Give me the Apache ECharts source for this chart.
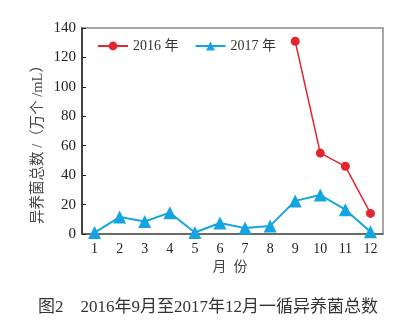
<!DOCTYPE html>
<html>
<head>
<meta charset="utf-8">
<script src="https://cdn.jsdelivr.net/npm/echarts@6/dist/echarts.min.js"></script>
<style>
  html, body { margin: 0; padding: 0; background: #fff; }
  #chart { width: 420px; height: 328px; }
</style>
</head>
<body>
<div id="chart"></div>
<script>
// Months on the x axis
const months = ['1', '2', '3', '4', '5', '6', '7', '8', '9', '10', '11', '12'];
// Total heterotrophic bacteria (10^4 cells/mL)
const values2016 = [null, null, null, null, null, null, null, null, 131, 55, 46, 14];
const values2017 = [1, 11.5, 8.5, 14.5, 1, 7.5, 4, 5.5, 22.5, 26.5, 16.5, 1.5];
const yTicks = { min: 0, max: 140, interval: 20 };

const serif = '"Liberation Serif", "Noto Sans CJK SC", serif';
const red = '#e3262d';
const blue = '#14a4e2';

const chart = echarts.init(document.getElementById('chart'), null, { renderer: 'canvas' });
chart.setOption({
  animation: false,
  backgroundColor: '#fff',
  grid: {
    left: 82, top: 28, width: 301, height: 206,
    show: true, borderColor: '#8a8a8a', borderWidth: 1.5, backgroundColor: 'transparent'
  },
  legend: {
    left: 92, top: 34,
    itemWidth: 30, itemHeight: 11, itemGap: 16,
    textStyle: { fontFamily: serif, fontSize: 14, color: '#333' },
    data: ['2016 年', '2017 年']
  },
  xAxis: {
    type: 'category',
    data: months,
    boundaryGap: true,
    axisLine: { lineStyle: { color: '#555', width: 1.5 } },
    axisTick: { inside: true, length: 5, lineStyle: { color: '#222', width: 1 } },
    axisLabel: { fontFamily: serif, fontSize: 14, color: '#222', margin: 8 },
    splitLine: { show: false }
  },
  yAxis: {
    type: 'value',
    min: yTicks.min, max: yTicks.max, interval: yTicks.interval,
    axisLine: { show: true, lineStyle: { color: '#222', width: 1.5 } },
    axisTick: { show: true, inside: true, length: 4, lineStyle: { color: '#222', width: 1 } },
    axisLabel: { fontFamily: serif, fontSize: 15, color: '#222', margin: 6 },
    splitLine: { show: false }
  },
  graphic: [
    {
      type: 'text', x: 38, y: 141, rotation: Math.PI / 2,
      style: { text: '异养菌总数 /（万个 /mL）', fontFamily: serif, fontSize: 14.5, fill: '#444', align: 'center', verticalAlign: 'middle' }
    },
    {
      type: 'text', x: 230, y: 267,
      style: { text: '月  份', fontFamily: serif, fontSize: 14, fill: '#444', align: 'center', verticalAlign: 'middle' }
    },
    {
      type: 'text', x: 208, y: 308,
      style: { text: '图2　2016年9月至2017年12月一循异养菌总数', fontFamily: serif, fontSize: 17, fill: '#333', align: 'center', verticalAlign: 'middle' }
    }
  ],
  series: [
    {
      name: '2016 年', type: 'line', data: values2016,
      symbol: 'circle', symbolSize: 9,
      lineStyle: { color: red, width: 1.5 },
      itemStyle: { color: red }
    },
    {
      name: '2017 年', type: 'line', data: values2017,
      symbol: 'triangle', symbolSize: 13,
      lineStyle: { color: blue, width: 2 },
      itemStyle: { color: blue }
    }
  ]
});
</script>
</body>
</html>
